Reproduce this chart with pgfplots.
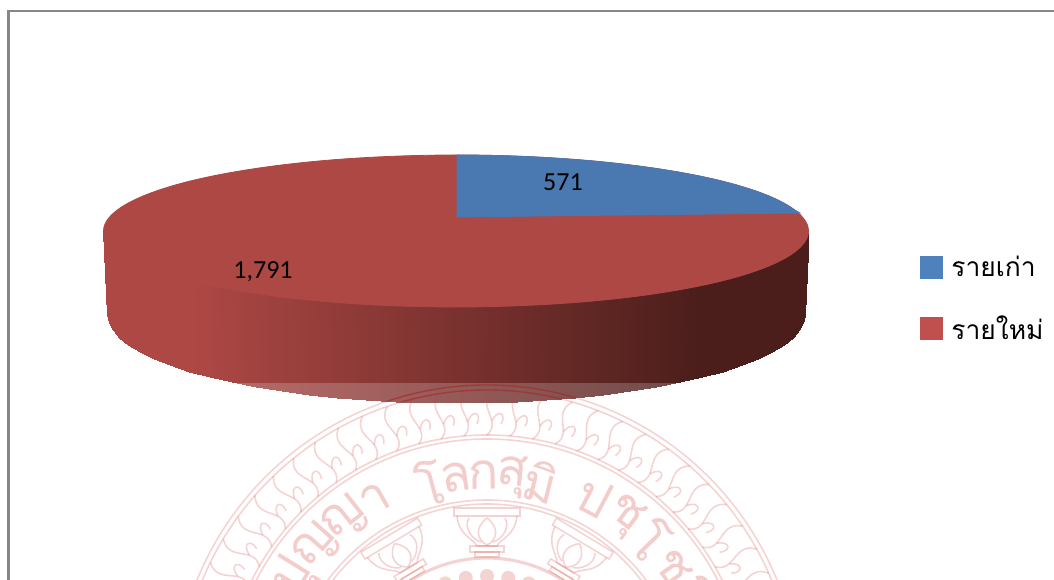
\documentclass[border=0pt]{standalone}
\usepackage{fontspec}
\usepackage{pgfplots}
\pgfplotsset{compat=1.18}
\setmainfont{Carlito}
\newfontfamily\thaifont[Script=Thai]{Loma}
\definecolor{pietop}{RGB}{174,72,69}
\definecolor{pieblue}{RGB}{74,120,176}
\definecolor{legblue}{RGB}{79,129,189}
\definecolor{legred}{RGB}{192,80,77}
\definecolor{frameg}{RGB}{134,134,134}
\definecolor{sealc}{RGB}{205,60,55}
\pgfplotsset{legsq/.style={legend image code/.code={\fill[##1] (0pt,-8.25pt) rectangle (16.5pt,8.25pt);}}}
\begin{document}
\begin{tikzpicture}
\begin{axis}[
  scale only axis, width=790.5pt, height=435pt,
  xmin=0, xmax=1054, ymin=0, ymax=580, y dir=reverse,
  hide axis, clip=true, legsq,
  colormap={pieside}{rgb255=(174,72,69) rgb255=(75,30,27)},
  point meta min=190, point meta max=700,
  legend style={at={(axis cs:920,256)}, anchor=north west, draw=none, fill=none,
    font=\thaifont\fontsize{19.8pt}{25pt}\selectfont, row sep=27.5pt, inner sep=0pt,
    nodes={inner xsep=6.5pt, inner ysep=0pt}},
  legend cell align=left,
]
\addlegendimage{legblue}
\addlegendentry{รายเก่า}
\addlegendimage{legred}
\addlegendentry{รายใหม่}

% side of the pie
\addplot[forget plot, surf, shader=interp, mesh/rows=2, point meta=\thisrow{c}] table {
x y c
103.5 231 190
104.8 234.6 190
108.9 241.2 190
115.5 247.7 190
124.8 254 190
136.5 260.1 190
150.7 266 190
167.2 271.6 190
186 276.9 190
206.7 281.7 206.7
229.4 286.2 229.4
253.8 290.3 253.8
279.7 293.8 279.7
307 296.9 307
335.4 299.4 335.4
364.8 301.4 364.8
394.8 302.8 394.8
425.3 303.7 425.3
456 304 456
486.7 303.7 486.7
517.2 302.8 517.2
547.2 301.4 547.2
576.6 299.4 576.6
605 296.9 605
632.3 293.8 632.3
658.2 290.3 658.2
682.6 286.2 682.6
705.3 281.7 700
726 276.9 700
744.8 271.6 700
761.3 266 700
775.5 260.1 700
787.2 254 700
796.5 247.7 700
803.1 241.2 700
807.2 234.6 700
808.5 231 700
107.5 315 190
108.8 322.7 190
112.8 330.3 190
119.4 337.8 190
128.5 345.1 190
140.2 352.2 190
154.2 359 190
170.5 365.5 190
189.1 371.6 190
209.6 377.2 206.7
232 382.4 229.4
256.1 387.1 253.8
281.7 391.2 279.7
308.7 394.8 307
336.8 397.7 335.4
365.8 400 364.8
395.5 401.7 394.8
425.6 402.7 425.3
456 403 456
486.4 402.7 486.7
516.5 401.7 517.2
546.2 400 547.2
575.2 397.7 576.6
603.3 394.8 605
630.3 391.2 632.3
655.9 387.1 658.2
680 382.4 682.6
702.4 377.2 700
722.9 371.6 700
741.5 365.5 700
757.8 359 700
771.8 352.2 700
783.5 345.1 700
792.6 337.8 700
799.2 330.3 700
803.2 322.7 700
804.5 315 700
};

% top of the pie
\addplot[forget plot, fill=pietop, draw=pietop, line width=0.6pt, smooth cycle, tension=0.6] coordinates {
(808.5,231)(803.1,217.8)(787.2,205)(761.3,193)(726,182.1)(682.6,172.8)(632.3,165.2)(576.6,159.6)(517.2,156.2)
(456,155)(394.8,156.2)(335.4,159.6)(279.8,165.2)(229.4,172.8)(186,182.1)(150.7,193)(124.8,205)(108.9,217.8)
(103.5,231)(108.9,244.2)(124.8,257)(150.7,269)(186,279.9)(229.4,289.2)(279.8,296.8)(335.4,302.4)(394.8,305.8)
(456,307)(517.2,305.8)(576.6,302.4)(632.3,296.8)(682.6,289.2)(726,279.9)(761.3,269)(787.2,257)(803.1,244.2)
};
% blue wedge, 571
\addplot[forget plot, fill=pieblue, draw=pieblue, line width=0.6pt] coordinates {
(457,217)(457,155)(477,155.1)(497,155.5)(517,156.1)(537,157)(557,158.2)(577,159.6)(597,161.3)(617,163.4)
(637,165.8)(657,168.6)(677,171.8)(697,175.5)(717,179.9)(737,185.1)(757,191.4)(767,195.2)(777,199.6)(787,204.9)(795,210.2)(800,213)
} -- cycle;

\node[font=\fontsize{19.5pt}{22pt}\selectfont] at (axis cs:563,182) {571};
\node[font=\fontsize{19.5pt}{22pt}\selectfont] at (axis cs:263,272) {1,791};

% frame
\draw[frameg, line width=1.6pt] (axis cs:8.5,600) -- (axis cs:8.5,11) -- (axis cs:1070,11);

% washed-out part behind the watermark
\fill[white, opacity=0.2] (axis cs:178,383) rectangle (axis cs:812,420);
\end{axis}

% darker arcs of the seal where it lies over the pie
\begin{scope}
\clip (342pt,198.75pt) ellipse [x radius=261pt, y radius=66pt];
\begin{scope}[shift={(365.25pt,-88.5pt)}, scale=0.75, color={rgb,255:red,140;green,35;blue,35}, opacity=0.55, line width=1pt]
  \foreach \r in {313,308}{ \draw (0pt,0pt) circle [radius=\r pt]; }
\end{scope}
\end{scope}

% watermark seal, clipped to the picture
\begin{scope}
\clip (0pt,0pt) rectangle (790.5pt,435pt);
\begin{scope}[shift={(365.25pt,-88.5pt)}, scale=0.75, sealc, opacity=0.22, line width=1.2pt]
  \foreach \r in {313,308,263,259,198,194}{ \draw (0pt,0pt) circle [radius=\r pt]; }
  \draw[line width=2.4pt] (0pt,0pt) circle [radius=140pt];
  \foreach \a in {-75,-70,...,75}{
    \begin{scope}[rotate=\a]
      \draw (0pt,263pt) .. controls (16pt,277pt) and (-12pt,292pt) .. (6pt,308pt);
      \draw (5pt,277pt) .. controls (11pt,290pt) and (20pt,284pt) .. (14pt,274pt);
    \end{scope}
  }
  \foreach \a in {-31,0,31}{
    \begin{scope}[rotate=\a]
      \draw (-33pt,190pt) -- (33pt,190pt) -- (33pt,182pt) -- (-33pt,182pt) -- cycle;
      \draw (-30pt,182pt) .. controls (-28pt,162pt) and (-14pt,160pt) .. (-10pt,152pt) -- (10pt,152pt) .. controls (14pt,160pt) and (28pt,162pt) .. (30pt,182pt);
      \draw (0pt,180pt) .. controls (-13pt,170pt) and (-10pt,158pt) .. (0pt,153pt) .. controls (10pt,158pt) and (13pt,170pt) .. (0pt,180pt);
      \draw (-18pt,180pt) .. controls (-24pt,170pt) and (-14pt,158pt) .. (-6pt,156pt);
      \draw (18pt,180pt) .. controls (24pt,170pt) and (14pt,158pt) .. (6pt,156pt);
      \draw (-17pt,152pt) -- (17pt,152pt) -- (17pt,146pt) -- (-17pt,146pt) -- cycle;
      \draw (-12pt,146pt) -- (12pt,146pt) -- (12pt,141pt) -- (-12pt,141pt) -- cycle;
    \end{scope}
  }
  \foreach \a in {-40,-30,...,40}{
    \fill[rotate=\a] (0pt,122pt) circle [radius=7pt];
  }
\end{scope}
\begin{scope}[shift={(365.25pt,-88.5pt)}, sealc, opacity=0.26]
  \foreach \a/\r/\t in {-15/167/โ,-8/167/ล,-1/167/ก,6.5/167/สุ,14/167/มิ,-58/171/ปุ,-48.5/171/ญ,-38.5/171/ญ,-29.5/171/า,28/171/ป,37/171/ชุ,46/171/โ,55/171/ช,63/171/โ,71/171/ต}{
    \node[rotate=-\a, font=\thaifont\fontsize{38pt}{42pt}\selectfont, inner sep=0pt] at (90-\a:\r pt) {\t};
  }
\end{scope}
\end{scope}
\pgfresetboundingbox
\useasboundingbox (0pt,0pt) rectangle (790.5pt,435pt);
\end{tikzpicture}
\end{document}
